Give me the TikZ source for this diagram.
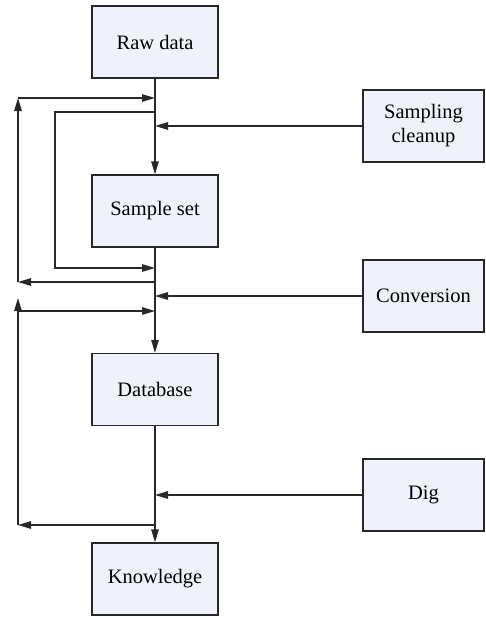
\documentclass[tikz,border=0pt]{standalone}
\usepackage{fontspec}
\setmainfont{Liberation Serif}
\usetikzlibrary{arrows.meta}
\definecolor{boxfill}{RGB}{239,242,250}
\definecolor{linec}{RGB}{40,40,40}
\begin{document}
\begin{tikzpicture}[x=1pt,y=-1pt,
  box/.style={draw=linec,line width=1.3pt,fill=boxfill,minimum width=126pt,minimum height=72pt,inner sep=0pt,align=center,font=\fontsize{20.5}{24}\selectfont},
  sbox/.style={box,minimum width=121pt},
  conn/.style={draw=linec,line width=1.3pt},
  arr/.style={conn,-{Triangle[length=13pt,width=7.5pt]}}]
\useasboundingbox (0,0) rectangle (485,618);
% nodes
\node[box] (raw) at (155,42) {Raw data};
\node[box] (ss) at (155,211) {Sample set};
\node[box] (db) at (155,389.5) {Database};
\node[box] (kn) at (155,579) {Knowledge};
\node[sbox] (sc) at (423.5,126) {Sampling\\cleanup};
\node[sbox] (cv) at (423.5,296) {Conversion};
\node[sbox] (dg) at (423.5,495) {Dig};
% junctions on main line
\coordinate (j1) at (155,98);
\coordinate (j2) at (155,112);
\coordinate (j3) at (155,126);
\coordinate (j4) at (155,268);
\coordinate (j5) at (155,282);
\coordinate (j6) at (155,296);
\coordinate (j7) at (155,311);
\coordinate (j8) at (155,495);
\coordinate (j9) at (155,525);
% left corners
\coordinate (a1) at (18,98);
\coordinate (a2) at (18,282);
\coordinate (b1) at (18,298);
\coordinate (b2) at (18,311);
\coordinate (b3) at (18,525);
\coordinate (c1) at (55,112);
\coordinate (c2) at (55,268);
% main flow
\draw[arr] (raw.south) -- (ss.north);
\draw[arr] (ss.south) -- (db.north);
\draw[arr] (db.south) -- (kn.north);
% inputs from right
\draw[arr] (sc.west) -- (j3);
\draw[arr] (cv.west) -- (j6);
\draw[arr] (dg.west) -- (j8);
% inner loop
\draw[arr] (j2) -- (c1) -- (c2) -- (j4);
% outer loop 1
\draw[arr] (j5) -- (a2);
\draw[arr] (a2) -- (a1);
\draw[arr] (a1) -- (j1);
% outer loop 2
\draw[arr] (j9) -- (b3);
\draw[arr] (b3) -- (b1);
\draw[arr] (b2) -- (j7);
\end{tikzpicture}
\end{document}
